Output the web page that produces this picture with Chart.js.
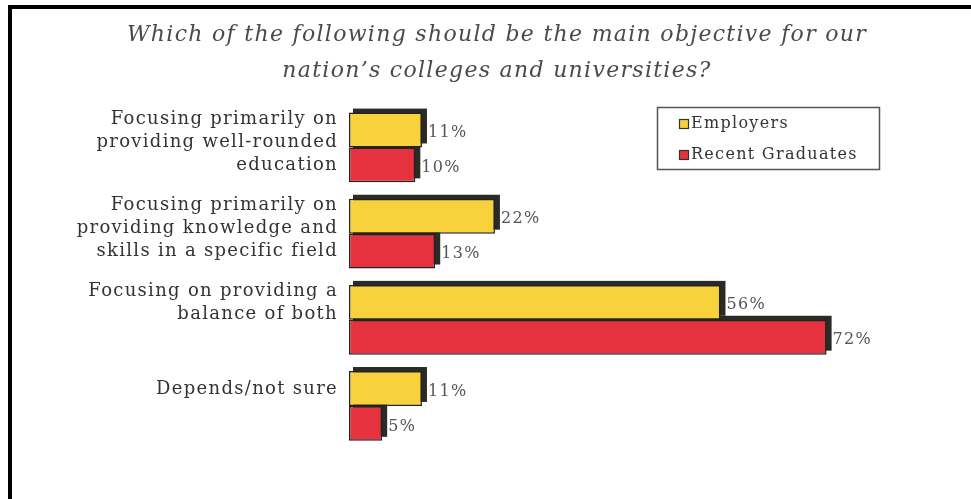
<!DOCTYPE html>
<html>
<head>
<meta charset="utf-8">
<script src="https://cdn.jsdelivr.net/npm/chart.js@4.4.1/dist/chart.umd.min.js"></script>
<style>
  html, body { margin: 0; padding: 0; background: #fff; }
  #wrap { position: relative; width: 971px; height: 499px; }
  #frame { position: absolute; left: 8px; top: 5px; right: 0; bottom: 0;
           border-left: 4px solid #000; border-top: 4px solid #000; pointer-events: none; }
</style>
</head>
<body>
<div id="wrap">
  <canvas id="chart" width="971" height="499"></canvas>
  <div id="frame"></div>
</div>
<script>
/* survey answers, percent */
var CATEGORIES = [
  ['Focusing primarily on', 'providing well-rounded', 'education'],
  ['Focusing primarily on', 'providing knowledge and', 'skills in a specific field'],
  ['Focusing on providing a', 'balance of both', ''],
  ['Depends/not sure', '']
];
var SERIES     = ['Employers', 'Recent Graduates'];
var EMPLOYERS  = [11, 22, 56, 11];
var GRADUATES  = [10, 13, 72, 5];
var TITLE      = ['Which of the following should be the main objective for our',
                  'nation\u2019s colleges and universities?'];

var YELLOW = '#f7d23c', RED = '#e6323f';
var SERIF  = "'DejaVu Serif', 'Liberation Serif', serif";

/* the old-print look is wide-spaced; set it on the context before layout + draw */
var spacing = {
  id: 'spacing',
  beforeUpdate: function (chart) { chart.ctx.letterSpacing = '1.3px'; },
  beforeDraw:   function (chart) { chart.ctx.letterSpacing = '1.3px'; }
};

/* dark block behind every bar, offset up and right */
var barShadow = {
  id: 'barShadow',
  beforeDatasetsDraw: function (chart) {
    var ctx = chart.ctx;
    ctx.save();
    ctx.fillStyle = '#2b2a24';
    chart.data.datasets.forEach(function (ds, i) {
      chart.getDatasetMeta(i).data.forEach(function (bar) {
        var p = bar.getProps(['x', 'y', 'base', 'height'], true);
        ctx.fillRect(p.base + 4, p.y - p.height / 2 - 4, p.x - p.base + 1, p.height);
      });
    });
    ctx.restore();
  }
};

/* "11%" style labels at the bar ends */
var valueLabels = {
  id: 'valueLabels',
  afterDatasetsDraw: function (chart) {
    var ctx = chart.ctx;
    ctx.save();
    ctx.font = '16px ' + SERIF;
    ctx.fillStyle = '#555';
    ctx.textAlign = 'left'; ctx.textBaseline = 'middle';
    chart.data.datasets.forEach(function (ds, i) {
      chart.getDatasetMeta(i).data.forEach(function (bar, j) {
        ctx.fillText(ds.data[j] + '%', bar.x + 6, bar.y + 3);
      });
    });
    ctx.restore();
  }
};

/* boxed legend, top right */
var boxLegend = {
  id: 'boxLegend',
  afterDraw: function (chart) {
    var ctx = chart.ctx;
    ctx.save();
    ctx.strokeStyle = '#555'; ctx.lineWidth = 1.5;
    ctx.strokeRect(657.5, 107.5, 222, 62);
    ctx.font = '16px ' + SERIF; ctx.textBaseline = 'middle'; ctx.textAlign = 'left';
    chart.data.datasets.forEach(function (ds, i) {
      var y = 124 + i * 31;
      ctx.fillStyle = ds.backgroundColor;
      ctx.fillRect(679, y - 5, 10, 10);
      ctx.strokeStyle = '#333'; ctx.lineWidth = 1.2;
      ctx.strokeRect(679.5, y - 4.5, 9, 9);
      ctx.fillStyle = '#333';
      ctx.fillText(ds.label, 691, y);
    });
    ctx.restore();
  }
};

new Chart(document.getElementById('chart'), {
  type: 'bar',
  data: {
    labels: CATEGORIES,
    datasets: [
      { label: SERIES[0], data: EMPLOYERS, backgroundColor: YELLOW, borderColor: '#222', borderWidth: 1.5, borderSkipped: false },
      { label: SERIES[1], data: GRADUATES, backgroundColor: RED,    borderColor: '#222', borderWidth: 1.5, borderSkipped: false }
    ]
  },
  plugins: [spacing, barShadow, valueLabels, boxLegend],
  options: {
    indexAxis: 'y',
    responsive: false,
    animation: false,
    barPercentage: 1.0,
    categoryPercentage: 0.81,
    layout: { padding: { left: 48, right: 25, top: 0, bottom: 50 } },
    plugins: {
      legend: { display: false },
      tooltip: { enabled: false },
      title: {
        display: true, text: TITLE, color: '#4a4a4a',
        font: { family: SERIF, style: 'italic', weight: 'normal', size: 22, lineHeight: 1.6 },
        padding: { top: 18, bottom: 16 }
      }
    },
    scales: {
      x: { display: false, min: 0, max: 90 },
      y: {
        afterFit: function (s) { s.width = 301; },
        grid: { display: false, drawTicks: false },
        border: { display: false },
        ticks: { color: '#333', padding: 11, labelOffset: -5,
                 font: { family: SERIF, size: 18, lineHeight: 1.28 } }
      }
    }
  }
});
</script>
</body>
</html>
